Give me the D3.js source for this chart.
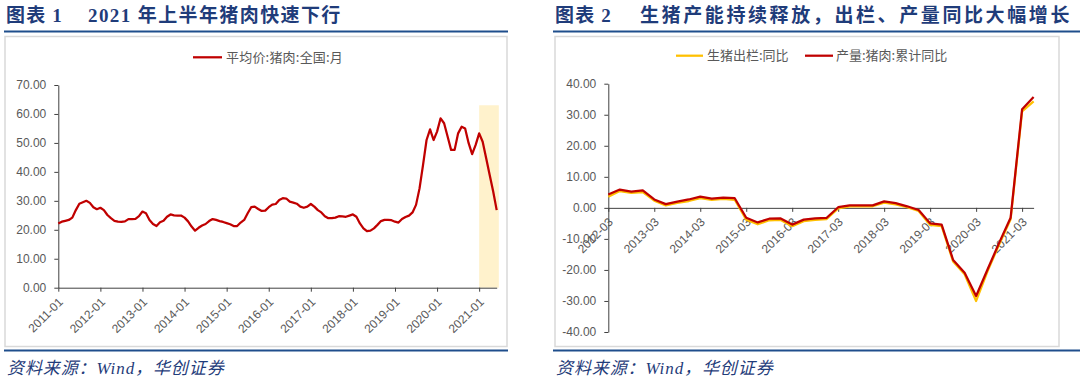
<!DOCTYPE html>
<html><head><meta charset="utf-8">
<script src="https://cdn.jsdelivr.net/npm/d3@7"></script>
<style>
html,body{margin:0;padding:0;background:#fff;}
svg{display:block;}
</style></head>
<body>
<script>
// ---------- DATA ----------
// Left chart: 平均价:猪肉:全国:月, monthly 2011-01 .. 2021-06
const porkStart = "2011-01";
const porkPrice = [
 22.2,22.8,23.1,23.4,24.2,26.8,29.0,29.5,30.0,29.3,27.8,27.1,
 27.6,26.8,25.1,24.0,23.1,22.8,22.7,22.9,23.7,23.7,23.8,24.7,
 26.3,25.7,23.4,22.0,21.3,22.6,23.1,24.5,25.3,25.0,24.9,24.9,
 24.2,22.9,21.1,19.7,20.7,21.5,22.0,23.0,23.7,23.4,23.0,22.7,
 22.3,21.9,21.3,21.3,22.5,23.4,25.7,27.8,28.0,27.2,26.5,26.6,
 27.8,28.7,28.9,30.3,30.9,30.8,29.7,29.4,29.0,28.0,27.6,28.0,
 28.9,28.0,26.8,26.0,24.7,24.0,24.0,24.2,24.7,24.6,24.5,24.9,
 25.3,24.5,22.2,20.5,19.5,19.7,20.5,21.7,23.0,23.4,23.4,23.3,
 22.8,22.5,23.7,24.4,24.9,26.0,28.6,34.3,42.4,51.0,54.7,51.0,
 53.9,58.5,56.8,52.2,47.6,47.6,53.3,55.6,55.0,49.9,46.1,49.3,
 53.3,50.4,44.7,38.9,33.2,26.8
];
const shadeFrom = "2021-01";
const shadeValue = 63;
const leftYTicks = [0,10,20,30,40,50,60,70];

// Right chart: quarterly 2012-03 .. 2021-06
const quarters = [
 "2012-03","2012-06","2012-09","2012-12","2013-03","2013-06","2013-09","2013-12",
 "2014-03","2014-06","2014-09","2014-12","2015-03","2015-06","2015-09","2015-12",
 "2016-03","2016-06","2016-09","2016-12","2017-03","2017-06","2017-09","2017-12",
 "2018-03","2018-06","2018-09","2018-12","2019-03","2019-06","2019-09","2019-12",
 "2020-03","2020-06","2020-09","2020-12","2021-03","2021-06"
];
const hogSlaughterYoY = [ // 生猪出栏:同比
 3.6,5.4,4.8,5.1,2.3,0.8,1.6,2.2,3.1,2.6,2.9,2.6,
 -3.8,-5.3,-4.0,-3.9,-5.9,-4.3,-3.9,-3.6,-0.2,0.5,0.5,0.5,
 1.7,1.1,0.2,-1.0,-5.5,-5.9,-17.3,-21.4,-30.0,-20.4,-11.8,-3.7,31.1,34.3
];
const porkOutputYoY = [ // 产量:猪肉:累计同比
 4.3,5.9,5.2,5.6,2.7,1.2,2.0,2.7,3.6,3.0,3.3,3.1,
 -3.2,-4.7,-3.5,-3.4,-5.4,-3.8,-3.4,-3.2,0.2,0.8,0.8,0.8,
 2.1,1.5,0.5,-0.7,-5.0,-5.4,-16.8,-20.9,-28.4,-19.8,-11.3,-3.2,31.8,35.7
];
const rightYTicks = [-40,-30,-20,-10,0,10,20,30,40];

// ---------- CHART ----------
const W = 1080, H = 381;
const RED = "#C00000", YEL = "#FFC000", BLUE = "#1F4E8C", TITLE = "#1F3C7A";
const GRAY = "#595959", AXIS = "#404040";
const CJK = "'Noto Sans CJK SC', sans-serif";
const NUM = "'Liberation Sans', Arial, sans-serif";

const svg = d3.select("body").append("svg").attr("width", W).attr("height", H);
svg.append("rect").attr("width", W).attr("height", H).attr("fill", "#fff");

function panelChrome(x0, x1, fx, fw, numLabel, titleText, titleX, titleSpacing) {
  svg.append("text").attr("x", x0 + 2).attr("y", 22)
    .attr("font-family", "'Liberation Serif'," + CJK).attr("font-weight", "bold")
    .attr("font-size", 19).attr("letter-spacing", 1.2).attr("fill", TITLE)
    .text("图表 " + numLabel);
  svg.append("text").attr("x", titleX).attr("y", 22)
    .attr("font-family", "'Liberation Serif'," + CJK).attr("font-weight", "bold")
    .attr("font-size", 19).attr("letter-spacing", titleSpacing).attr("fill", TITLE)
    .text(titleText);
  svg.append("line").attr("x1", x0).attr("x2", x1).attr("y1", 31.5).attr("y2", 31.5)
    .attr("stroke", BLUE).attr("stroke-width", 2);
  svg.append("rect").attr("x", fx).attr("y", 36.5).attr("width", fw).attr("height", 310)
    .attr("fill", "none").attr("stroke", "#D9D9D9").attr("stroke-width", 1.5);
  svg.append("line").attr("x1", x0).attr("x2", x1).attr("y1", 350.5).attr("y2", 350.5)
    .attr("stroke", BLUE).attr("stroke-width", 2);
  svg.append("text").attr("x", x0 + 3).attr("y", 374)
    .attr("font-family", "'Liberation Serif'," + CJK).attr("font-style", "italic")
    .attr("font-size", 17).attr("letter-spacing", 0.9).attr("fill", TITLE)
    .text("资料来源：Wind，华创证券");
}
panelChrome(4, 508, 5, 502, "1", "2021 年上半年猪肉快速下行", 88, 1.4);
panelChrome(553, 1080, 555, 504, "2", "生猪产能持续释放，出栏、产量同比大幅增长", 640, 2.6);

function styleAxis(g) {
  g.select(".domain").attr("stroke", AXIS).attr("stroke-width", 1);
  g.selectAll(".tick line").attr("stroke", AXIS).attr("stroke-width", 1);
  g.selectAll("text").attr("fill", GRAY).attr("font-family", NUM).attr("font-size", 12);
}

// ----- Left chart -----
const p0 = d3.timeParse("%Y-%m")(porkStart);
const months = porkPrice.map((_, i) => d3.timeFormat("%Y-%m")(d3.timeMonth.offset(p0, i)));
const xL = d3.scalePoint().domain(months).range([58.3, 496.7]);
const yL = d3.scaleLinear().domain([0, 70]).range([287.7, 85]);

const shadeMonths = months.slice(months.indexOf(shadeFrom));
svg.append("rect")
  .attr("x", xL(shadeMonths[0]))
  .attr("width", xL(shadeMonths[shadeMonths.length - 1]) - xL(shadeMonths[0]) + xL.step() * 0.6)
  .attr("y", yL(shadeValue)).attr("height", yL(0) - yL(shadeValue))
  .attr("fill", "#FFF2CC");

const gyL = svg.append("g").attr("transform", "translate(58.3,0)")
  .call(d3.axisLeft(yL).tickValues(leftYTicks).tickFormat(d => d.toFixed(2)).tickSize(4).tickSizeOuter(0).tickPadding(8));
styleAxis(gyL);

const gxL = svg.append("g").attr("transform", `translate(0,${yL(0)})`)
  .call(d3.axisBottom(xL).tickValues(months.filter(m => m.endsWith("-01"))).tickSize(4).tickSizeOuter(0));
styleAxis(gxL);
gxL.selectAll("text").attr("x", 0).attr("y", 0).attr("dy", 0)
  .attr("text-anchor", "end").attr("transform", "translate(5,15) rotate(-45)");

svg.append("path").datum(porkPrice)
  .attr("fill", "none").attr("stroke", RED).attr("stroke-width", 2.25)
  .attr("stroke-linejoin", "round")
  .attr("d", d3.line().x((d, i) => xL(months[i])).y(d => yL(d)));

// legend
svg.append("line").attr("x1", 193).attr("x2", 222).attr("y1", 57.3).attr("y2", 57.3)
  .attr("stroke", RED).attr("stroke-width", 2.25);
svg.append("text").attr("x", 226).attr("y", 61.8).attr("font-family", CJK)
  .attr("font-size", 13).attr("letter-spacing", 0.2).attr("fill", GRAY).text("平均价:猪肉:全国:月");

// ----- Right chart -----
const xR = d3.scalePoint().domain(quarters).range([608.3, 1033.6]);
const yR = d3.scaleLinear().domain([-40, 40]).range([332, 83.7]);

const gyR = svg.append("g").attr("transform", "translate(608.3,0)")
  .call(d3.axisLeft(yR).tickValues(rightYTicks).tickFormat(d => d.toFixed(2)).tickSize(4).tickSizeOuter(0).tickPadding(8));
styleAxis(gyR);

const gxR = svg.append("g").attr("transform", `translate(0,${yR(0)})`)
  .call(d3.axisBottom(xR).tickValues(quarters.filter(q => q.endsWith("-03"))).tickSize(4).tickSizeOuter(0));
styleAxis(gxR);
gxR.selectAll("text").attr("x", 0).attr("y", 0).attr("dy", 0)
  .attr("text-anchor", "end").attr("transform", "translate(5,15) rotate(-45)");

const lineR = d3.line().x((d, i) => xR(quarters[i])).y(d => yR(d));
svg.append("path").datum(hogSlaughterYoY)
  .attr("fill", "none").attr("stroke", YEL).attr("stroke-width", 2.25)
  .attr("stroke-linejoin", "round").attr("d", lineR);
svg.append("path").datum(porkOutputYoY)
  .attr("fill", "none").attr("stroke", RED).attr("stroke-width", 2.25)
  .attr("stroke-linejoin", "round").attr("d", lineR);

// legend
svg.append("line").attr("x1", 676).attr("x2", 703).attr("y1", 55.7).attr("y2", 55.7)
  .attr("stroke", YEL).attr("stroke-width", 2.25);
svg.append("text").attr("x", 707).attr("y", 60.2).attr("font-family", CJK)
  .attr("font-size", 13).attr("fill", GRAY).text("生猪出栏:同比");
svg.append("line").attr("x1", 805).attr("x2", 833).attr("y1", 55.7).attr("y2", 55.7)
  .attr("stroke", RED).attr("stroke-width", 2.25);
svg.append("text").attr("x", 836).attr("y", 60.2).attr("font-family", CJK)
  .attr("font-size", 13).attr("fill", GRAY).text("产量:猪肉:累计同比");
</script>
</body></html>
